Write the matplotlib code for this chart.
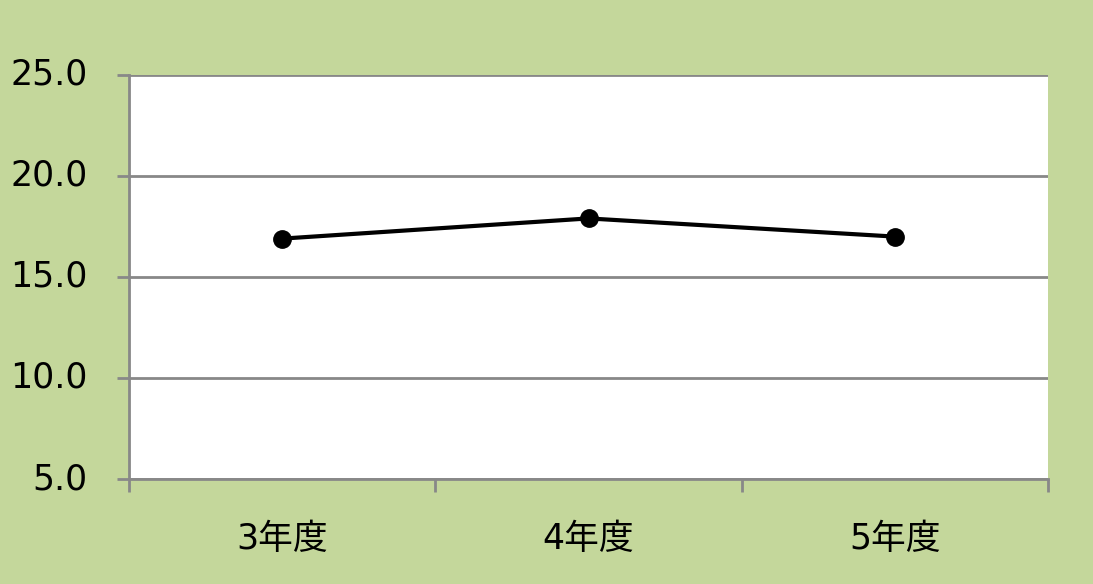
import matplotlib
matplotlib.use("Agg")
import matplotlib.pyplot as plt
import numpy as np

# DejaVu for digits (Verdana-like), CJK family picks up the kanji
plt.rcParams["font.family"] = ["DejaVu Sans", "Noto Sans CJK JP"]

categories = ["3年度", "4年度", "5年度"]
values = [16.9, 17.9, 17.0]
y_ticks = [5.0, 10.0, 15.0, 20.0, 25.0]

BG = "#C4D79B"
GRID = "#888888"

fig = plt.figure(figsize=(10.93, 5.84), dpi=100, facecolor=BG)
ax = fig.add_axes([129 / 1093, 1 - 479 / 584, (1048 - 129) / 1093, (479 - 75) / 584])
ax.set_facecolor("white")

x = np.arange(len(categories))
ax.plot(x, values, color="black", linewidth=3, marker="o", markersize=12.5, zorder=3)

ax.set_xlim(-0.5, len(categories) - 0.5)
ax.set_ylim(5, 25)
ax.set_yticks(y_ticks)
ax.set_yticklabels([f"{v:.1f}" for v in y_ticks])
ax.yaxis.grid(True, color=GRID, linewidth=2)
ax.set_axisbelow(True)

# category labels centred, ticks on boundaries
ax.set_xticks(np.arange(-0.5, len(categories), 1.0))
ax.set_xticklabels([])
ax.set_xticks(x, minor=True)
ax.set_xticklabels(categories, minor=True)
ax.tick_params(axis="x", which="major", length=9, width=2, color=GRID)
ax.tick_params(axis="x", which="minor", length=0, pad=31, labelsize=25)
ax.tick_params(axis="y", length=9, width=2, color=GRID, labelsize=25, pad=21)
for lbl in ax.get_yticklabels():
    lbl.set_verticalalignment("center")

for side in ("top", "right"):
    ax.spines[side].set_visible(False)
for side in ("left", "bottom"):
    ax.spines[side].set_color(GRID)
    ax.spines[side].set_linewidth(2)

fig.savefig("out.png", dpi=100, facecolor=BG)
